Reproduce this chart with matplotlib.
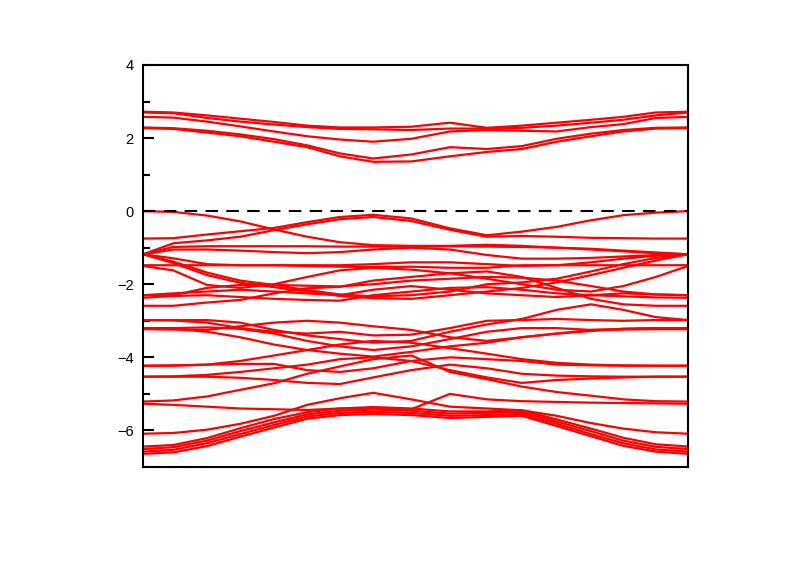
import numpy as np
import matplotlib
matplotlib.use('Agg')
import matplotlib.pyplot as plt
from matplotlib.ticker import MultipleLocator

plt.rcParams['font.family'] = ['Liberation Sans', 'DejaVu Sans']

# k-path positions (fraction of the path) of the 17 k-points
kpts = [0.000, 0.055, 0.117, 0.178, 0.240, 0.301, 0.361, 0.422, 0.492,
        0.563, 0.631, 0.695, 0.759, 0.822, 0.881, 0.941, 1.000]

# conduction bands (eV)
cb1 = [2.72, 2.70, 2.62, 2.53, 2.44, 2.34, 2.29, 2.29, 2.31, 2.42, 2.28, 2.34, 2.42, 2.50, 2.58, 2.70, 2.72]
cb2 = [2.70, 2.68, 2.55, 2.45, 2.37, 2.30, 2.25, 2.24, 2.22, 2.26, 2.26, 2.28, 2.34, 2.42, 2.50, 2.62, 2.70]
cb3 = [2.58, 2.56, 2.45, 2.32, 2.18, 2.05, 1.96, 1.90, 1.98, 2.18, 2.22, 2.20, 2.18, 2.30, 2.38, 2.55, 2.58]
cb4 = [2.29, 2.27, 2.20, 2.10, 1.97, 1.80, 1.58, 1.44, 1.55, 1.75, 1.70, 1.78, 1.98, 2.12, 2.22, 2.28, 2.29]
cb5 = [2.27, 2.25, 2.15, 2.05, 1.90, 1.75, 1.50, 1.35, 1.36, 1.50, 1.62, 1.70, 1.90, 2.05, 2.18, 2.26, 2.27]

# valence bands (eV)
vb1 = [0.00, -0.02, -0.12, -0.28, -0.50, -0.70, -0.85, -0.93, -0.95, -0.95, -0.92, -0.95, -1.00, -1.05, -1.10, -1.15, -1.18]
vb2 = [-0.75, -0.74, -0.64, -0.55, -0.46, -0.30, -0.16, -0.10, -0.20, -0.47, -0.66, -0.56, -0.43, -0.25, -0.11, -0.04, 0.00]
vb3 = [-1.18, -0.88, -0.80, -0.70, -0.52, -0.36, -0.22, -0.16, -0.27, -0.51, -0.70, -0.68, -0.70, -0.73, -0.74, -0.75, -0.75]
vb4 = [-1.18, -0.98, -0.96, -0.96, -0.96, -0.96, -0.97, -0.97, -0.97, -0.96, -0.97, -0.98, -1.00, -1.03, -1.08, -1.13, -1.18]
vb5 = [-1.18, -1.05, -1.05, -1.08, -1.12, -1.15, -1.12, -1.05, -1.00, -1.05, -1.20, -1.30, -1.30, -1.28, -1.24, -1.20, -1.18]
vb6 = [-1.18, -1.29, -1.45, -1.48, -1.48, -1.48, -1.48, -1.45, -1.40, -1.40, -1.45, -1.50, -1.48, -1.40, -1.30, -1.22, -1.18]
vb7 = [-1.48, -1.48, -1.48, -1.48, -1.48, -1.50, -1.52, -1.53, -1.52, -1.55, -1.55, -1.48, -1.48, -1.48, -1.48, -1.48, -1.48]
vb8 = [-1.18, -1.38, -1.68, -1.90, -2.02, -2.16, -2.28, -2.33, -2.30, -2.20, -2.00, -1.95, -1.85, -1.65, -1.45, -1.28, -1.18]
vb9 = [-1.18, -1.42, -1.75, -1.96, -2.08, -2.20, -2.32, -2.38, -2.40, -2.30, -2.20, -2.10, -1.95, -1.75, -1.55, -1.35, -1.18]
vb10 = [-1.50, -1.62, -2.02, -2.10, -2.00, -1.80, -1.62, -1.55, -1.60, -1.70, -1.85, -2.00, -2.15, -2.20, -2.05, -1.80, -1.50]
vb11 = [-2.30, -2.30, -2.10, -2.02, -2.02, -2.04, -2.06, -2.00, -1.90, -1.85, -1.80, -1.82, -1.90, -2.05, -2.20, -2.28, -2.30]
vb12 = [-2.37, -2.32, -2.30, -2.35, -2.40, -2.43, -2.45, -2.30, -2.20, -2.10, -2.08, -2.15, -2.25, -2.30, -2.33, -2.36, -2.37]
vb13 = [-2.59, -2.59, -2.50, -2.43, -2.25, -2.11, -2.07, -1.90, -1.80, -1.70, -1.65, -1.80, -2.10, -2.40, -2.55, -2.59, -2.59]
vb14 = [-2.98, -2.98, -2.98, -3.05, -3.25, -3.40, -3.50, -3.60, -3.55, -3.30, -3.10, -2.95, -2.70, -2.55, -2.70, -2.90, -2.98]
vb15 = [-3.20, -3.20, -3.18, -3.22, -3.35, -3.55, -3.70, -3.80, -3.70, -3.50, -3.30, -3.20, -3.20, -3.25, -3.22, -3.20, -3.20]
vb16 = [-3.23, -3.24, -3.25, -3.15, -3.05, -3.00, -3.05, -3.15, -3.25, -3.45, -3.55, -3.45, -3.35, -3.25, -3.24, -3.23, -3.23]
vb17 = [-4.23, -4.22, -4.20, -4.18, -4.18, -4.35, -4.40, -4.30, -4.10, -4.00, -4.05, -4.10, -4.20, -4.22, -4.23, -4.23, -4.23]
vb18 = [-4.53, -4.53, -4.53, -4.56, -4.62, -4.70, -4.73, -4.55, -4.35, -4.20, -4.30, -4.45, -4.50, -4.52, -4.53, -4.53, -4.53]
vb19 = [-5.21, -5.18, -5.07, -4.89, -4.71, -4.45, -4.25, -4.05, -3.95, -4.40, -4.60, -4.80, -4.95, -5.05, -5.15, -5.20, -5.21]
vb20 = [-5.27, -5.30, -5.35, -5.40, -5.42, -5.44, -5.40, -5.40, -5.42, -5.00, -5.15, -5.20, -5.22, -5.24, -5.25, -5.26, -5.27]
vb21 = [-6.09, -6.07, -5.98, -5.82, -5.60, -5.30, -5.12, -4.97, -5.15, -5.35, -5.40, -5.45, -5.60, -5.80, -5.95, -6.05, -6.09]
vb22 = [-6.44, -6.40, -6.21, -5.94, -5.69, -5.50, -5.40, -5.36, -5.40, -5.48, -5.48, -5.45, -5.70, -5.95, -6.20, -6.38, -6.44]
vb23 = [-6.51, -6.46, -6.28, -6.02, -5.78, -5.56, -5.46, -5.43, -5.46, -5.54, -5.52, -5.50, -5.76, -6.02, -6.28, -6.45, -6.51]
vb24 = [-6.58, -6.53, -6.35, -6.10, -5.85, -5.62, -5.52, -5.49, -5.52, -5.60, -5.58, -5.55, -5.82, -6.10, -6.35, -6.52, -6.58]
vb25 = [-6.64, -6.60, -6.43, -6.17, -5.92, -5.68, -5.58, -5.55, -5.58, -5.66, -5.63, -5.60, -5.88, -6.16, -6.42, -6.58, -6.64]
vb26 = [-3.20, -3.22, -3.30, -3.45, -3.65, -3.80, -3.90, -3.98, -3.85, -3.70, -3.60, -3.45, -3.35, -3.28, -3.22, -3.20, -3.20]
vb27 = [-4.23, -4.23, -4.20, -4.10, -3.95, -3.80, -3.65, -3.55, -3.60, -3.75, -3.90, -4.05, -4.15, -4.20, -4.22, -4.23, -4.23]
vb28 = [-4.53, -4.52, -4.48, -4.40, -4.30, -4.20, -4.05, -4.00, -4.10, -4.35, -4.55, -4.70, -4.62, -4.58, -4.55, -4.53, -4.53]
vb29 = [-2.98, -2.99, -3.05, -3.20, -3.30, -3.35, -3.30, -3.40, -3.38, -3.20, -3.00, -2.98, -2.95, -2.98, -3.00, -2.98, -2.98]
vb30 = [-2.30, -2.25, -2.20, -2.15, -2.20, -2.25, -2.30, -2.15, -2.05, -2.15, -2.25, -2.30, -2.35, -2.30, -2.25, -2.28, -2.30]

bands = [cb1, cb2, cb3, cb4, cb5,
         vb1, vb2, vb3, vb4, vb5, vb6, vb7, vb8, vb9, vb10,
         vb11, vb12, vb13, vb14, vb15, vb16, vb17, vb18, vb19, vb20,
         vb21, vb22, vb23, vb24, vb25, vb26, vb27, vb28, vb29, vb30]

fig = plt.figure(figsize=(8, 5.61), dpi=100)
ax = fig.add_axes([0.179, 0.1676, 0.681, 0.7166])

for b in bands:
    ax.plot(kpts, b, color='red', lw=1.6)

# Fermi level
ax.axhline(0, color='black', lw=1.5, ls=(0, (6, 4)), zorder=3)

ax.set_xlim(0, 1)
ax.set_ylim(-7, 4)
ax.set_xticks([])
ax.yaxis.set_major_locator(MultipleLocator(2))
ax.yaxis.set_minor_locator(MultipleLocator(1))
ax.tick_params(axis='y', which='major', direction='in', length=8, width=1.5,
               labelsize=10.5, pad=7)
ax.tick_params(axis='y', which='minor', direction='in', length=5, width=1.5)
for s in ax.spines.values():
    s.set_linewidth(1.5)

fig.savefig('out.png', dpi=100)
